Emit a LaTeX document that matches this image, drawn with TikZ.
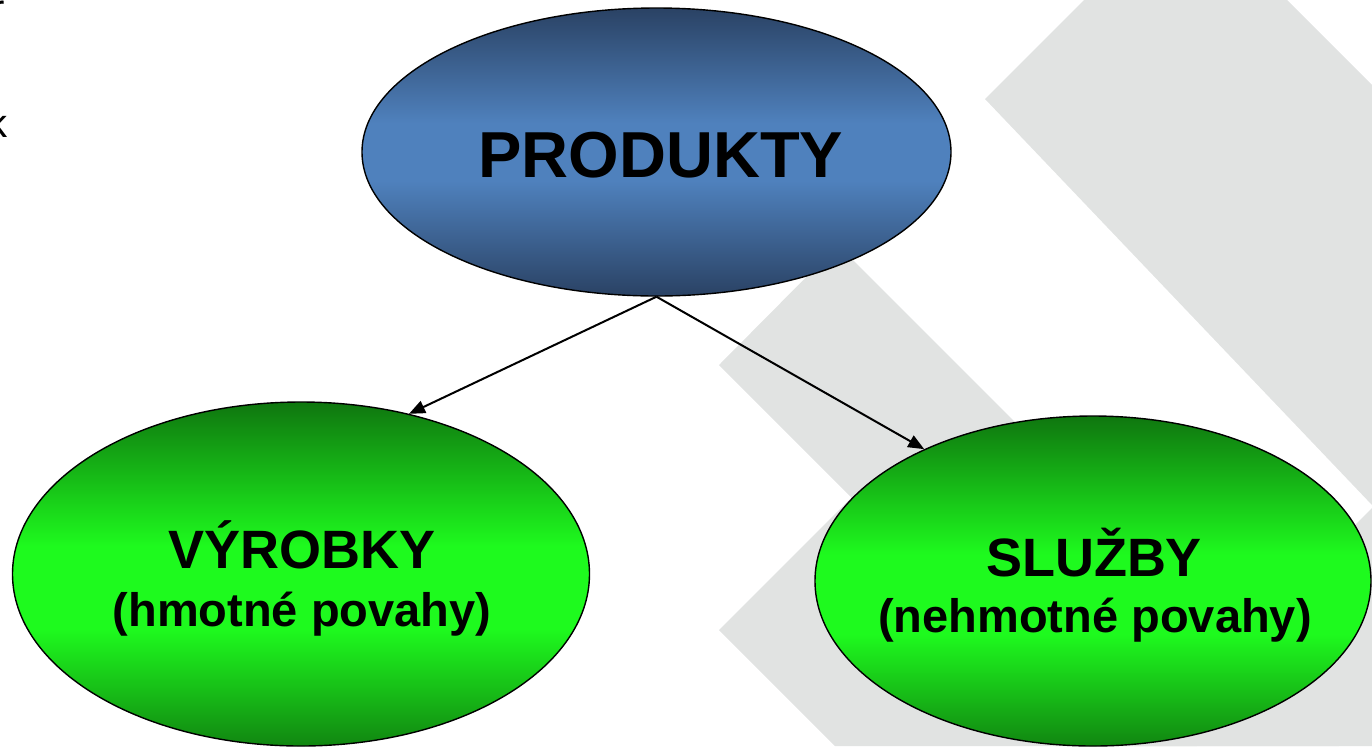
\documentclass[tikz,border=0pt]{standalone}
\usepackage{fontspec}
\setmainfont{Liberation Sans}
\usetikzlibrary{shapes.geometric,arrows.meta}
\definecolor{greybg}{RGB}{225,227,226}
\definecolor{bdark}{RGB}{42,66,100}
\definecolor{blight}{RGB}{79,129,189}
\definecolor{gdark}{RGB}{15,118,15}
\definecolor{gdarkb}{RGB}{17,134,17}
\definecolor{glight}{RGB}{30,250,30}
\pgfdeclareverticalshading{blueshade}{100bp}{color(0bp)=(bdark); color(25bp)=(bdark); color(45bp)=(blight); color(55bp)=(blight); color(75bp)=(bdark); color(100bp)=(bdark)}
\pgfdeclareverticalshading{greenshade}{100bp}{color(0bp)=(gdarkb); color(25bp)=(gdarkb); color(42bp)=(glight); color(54bp)=(glight); color(75bp)=(gdark); color(100bp)=(gdark)}
\tikzset{
  ell/.style={ellipse, draw=black, line width=0.7pt, inner sep=0pt, shade},
  bigtxt/.style={font=\fontsize{32.5}{36}\selectfont\bfseries, inner sep=0pt, anchor=base},
  ttl/.style={font=\fontsize{27}{30}\selectfont\bfseries, inner sep=0pt, anchor=base},
  subtxt/.style={font=\fontsize{23.5}{27}\selectfont\bfseries, inner sep=0pt, anchor=base},
  conn/.style={line width=1pt, -{Triangle[length=8pt,width=6.5pt]}},
  bgshape/.style={fill=greybg, draw=none},
  frag/.style={font=\fontsize{20}{24}\selectfont, inner sep=0pt, anchor=base east}
}
\begin{document}
\begin{tikzpicture}[x=0.5pt,y=-0.5pt]
\useasboundingbox (0,0) rectangle (1372,746);
% background grey shapes
\fill[bgshape] (985,99) -- (1084,0) -- (1287,0) -- (1372,85) -- (1372,505) -- cycle;
\fill[bgshape] (719,365) -- (838,245) -- (1339,746) -- (1100,746) -- cycle;
\fill[bgshape] (719,630) -- (900,449) -- (1197,746) -- (835,746) -- cycle;
\fill[bgshape] (1372,508) -- (1134,746) -- (1372,746) -- cycle;
% fragments of text at the left edge
\node[frag] (fr1) at (5,22) {r};
\node[frag] (fr2) at (8,137) {k};
% ellipses
\node[ell, shading=blueshade, minimum width=294.5pt, minimum height=144pt] (prod) at (656.5,152) {};
\node[ell, shading=greenshade, minimum width=288.5pt, minimum height=172pt] (vyr) at (301,574) {};
\node[ell, shading=greenshade, minimum width=278pt, minimum height=165pt] (sluz) at (1093,581) {};
% texts
\node[bigtxt] (prodtxt) at (661,177) {PRODUKTY};
\node[ttl] (vyrtxt) at (302,568) {VÝROBKY};
\node[subtxt] (vyrsub) at (302,626) {(hmotné povahy)};
\node[ttl] (sluztxt) at (1094,576) {SLUŽBY};
\node[subtxt] (sluzsub) at (1095,632) {(nehmotné povahy)};
% connectors
\draw[conn] (prod.south) -- (vyr.56);
\draw[conn] (prod.south) -- (sluz.142);
\end{tikzpicture}
\end{document}
